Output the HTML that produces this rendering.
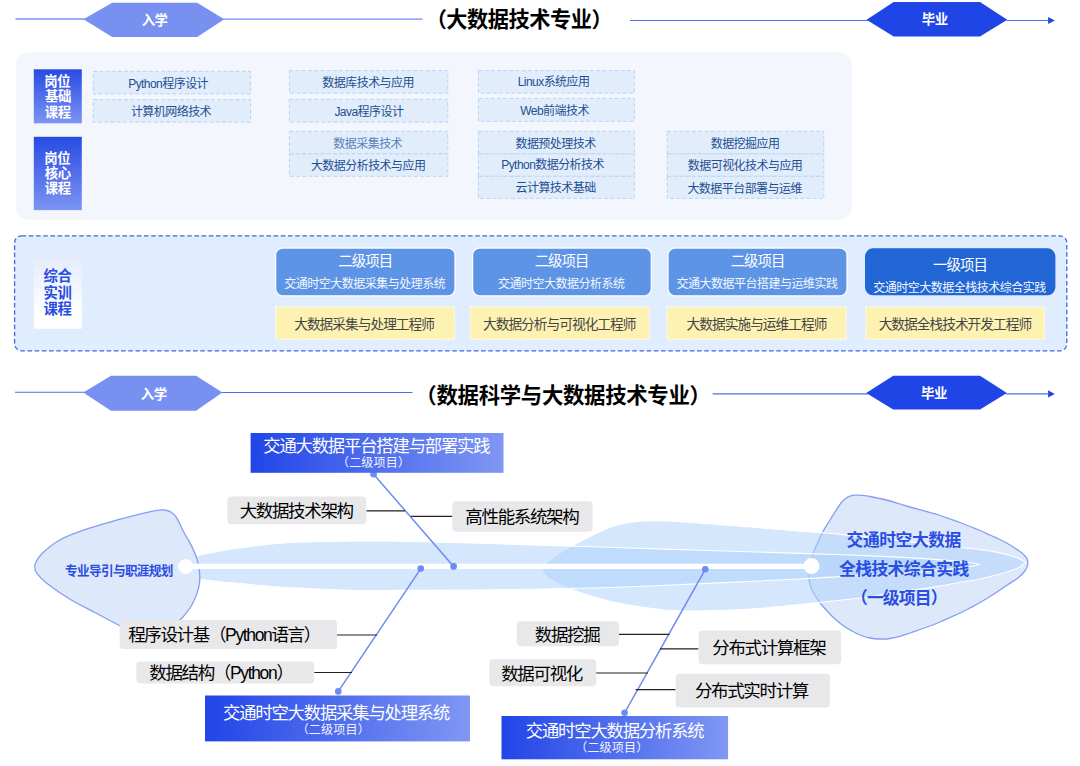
<!DOCTYPE html>
<html lang="zh-CN"><head><meta charset="utf-8"><title>大数据技术专业 课程体系</title>
<style>
html,body{margin:0;padding:0;background:#fff}
body{width:1080px;height:766px;position:relative;overflow:hidden;font-family:"Liberation Sans",sans-serif}
svg{position:absolute;left:0;top:0;display:block}
.t{position:absolute;color:transparent;white-space:nowrap;overflow:hidden;margin:0;padding:0;text-align:center;letter-spacing:0}
svg text{font-family:"Liberation Sans","Noto Sans CJK SC",sans-serif;white-space:pre}
</style></head><body>
<svg width="1080" height="766" viewBox="0 0 1080 766">
<defs>
<linearGradient id="gv" x1="0" y1="0" x2="0" y2="1"><stop offset="0" stop-color="#284be3"/><stop offset="1" stop-color="#7c94f3"/></linearGradient>
<linearGradient id="gw" x1="0" y1="0" x2="0" y2="1"><stop offset="0" stop-color="#e3ebfb"/><stop offset="0.75" stop-color="#fdfeff"/><stop offset="1" stop-color="#ffffff"/></linearGradient>
<linearGradient id="gh" x1="0" y1="0" x2="1" y2="0"><stop offset="0" stop-color="#2145e8"/><stop offset="1" stop-color="#8097f3"/></linearGradient>
</defs>
<path d="M15.5 19.0H84.5" stroke="#7890f0" stroke-width="1.3" fill="none"/>
<path d="M223.5 19.2H422.5" stroke="#6f8af0" stroke-width="1.2" fill="none"/>
<path d="M83.4 19.2L112.2 2.8H197.2L224.3 19.2L197.2 37.0H112.2Z" fill="#7890f0"/>
<path d="M630.0 20.5H868.0M1006.5 20.5H1048.5" stroke="#4f70ee" stroke-width="1.0" fill="none"/>
<path d="M866.6 19.8L893.6 2.0H980.0L1007.3 19.8L980.0 36.6H893.6Z" fill="#1f45e6"/>
<path d="M1048.1 16.9L1054.8 20.5L1048.1 24.1Z" fill="#1f45e6"/>
<path d="M15.0 392.3H84.5" stroke="#4f6eea" stroke-width="1.1" fill="none"/>
<path d="M221.5 392.5H412.5" stroke="#4f70ee" stroke-width="1.1" fill="none"/>
<path d="M83.3 392.4L111.0 375.8H196.0L222.4 392.4L196.0 410.7H111.0Z" fill="#7890f0"/>
<path d="M712.6 393.9H868.0M1006.0 393.9H1048.5" stroke="#4f70ee" stroke-width="1.2" fill="none"/>
<path d="M866.2 393.0L893.2 375.8H980.0L1006.9 393.0L980.0 409.6H893.2Z" fill="#1f45e6"/>
<path d="M1048.1 390.3L1054.8 393.9L1048.1 397.5Z" fill="#1f45e6"/>
<rect x="16" y="52.6" width="836" height="166.8" rx="12" fill="#f3f6fc"/>
<rect x="33.8" y="69.3" width="48" height="54" fill="url(#gv)"/>
<rect x="33.8" y="136.8" width="48" height="73.3" fill="url(#gv)"/>
<rect x="93.2" y="71.3" width="157.4" height="22.6" fill="#e2edfc" stroke="#b7d4f6" stroke-width="1" stroke-dasharray="3.8 2.4"/>
<rect x="93.2" y="99.6" width="157.4" height="22.5" fill="#e2edfc" stroke="#b7d4f6" stroke-width="1" stroke-dasharray="3.8 2.4"/>
<rect x="289.4" y="70.6" width="158.4" height="22.6" fill="#e2edfc" stroke="#b7d4f6" stroke-width="1" stroke-dasharray="3.8 2.4"/>
<rect x="289.4" y="99.3" width="158.4" height="22.8" fill="#e2edfc" stroke="#b7d4f6" stroke-width="1" stroke-dasharray="3.8 2.4"/>
<rect x="478.4" y="70.6" width="156.0" height="22.5" fill="#e2edfc" stroke="#b7d4f6" stroke-width="1" stroke-dasharray="3.8 2.4"/>
<rect x="478.4" y="98.4" width="156.0" height="22.9" fill="#e2edfc" stroke="#b7d4f6" stroke-width="1" stroke-dasharray="3.8 2.4"/>
<rect x="289.4" y="131.3" width="158.4" height="22.6" fill="#e2edfc" stroke="#b7d4f6" stroke-width="1" stroke-dasharray="3.8 2.4"/>
<rect x="289.4" y="153.9" width="158.4" height="22.4" fill="#e2edfc" stroke="#b7d4f6" stroke-width="1" stroke-dasharray="3.8 2.4"/>
<rect x="478.4" y="131.3" width="156.0" height="22.6" fill="#e2edfc" stroke="#b7d4f6" stroke-width="1" stroke-dasharray="3.8 2.4"/>
<rect x="478.4" y="153.9" width="156.0" height="22.4" fill="#e2edfc" stroke="#b7d4f6" stroke-width="1" stroke-dasharray="3.8 2.4"/>
<rect x="478.4" y="176.3" width="156.0" height="22.1" fill="#e2edfc" stroke="#b7d4f6" stroke-width="1" stroke-dasharray="3.8 2.4"/>
<rect x="667.2" y="131.3" width="156.6" height="22.6" fill="#e2edfc" stroke="#b7d4f6" stroke-width="1" stroke-dasharray="3.8 2.4"/>
<rect x="667.2" y="153.9" width="156.6" height="22.4" fill="#e2edfc" stroke="#b7d4f6" stroke-width="1" stroke-dasharray="3.8 2.4"/>
<rect x="667.2" y="176.3" width="156.6" height="22.1" fill="#e2edfc" stroke="#b7d4f6" stroke-width="1" stroke-dasharray="3.8 2.4"/>
<rect x="14.6" y="235.8" width="1052.2" height="115" rx="7" fill="#dfedfe" stroke="#4367e2" stroke-width="1.3" stroke-dasharray="4.6 2.6"/>
<rect x="33.8" y="255" width="48" height="73.8" fill="url(#gw)"/>
<rect x="275.6" y="248" width="179.4" height="47.8" rx="7" fill="#5e94e6" stroke="#fafcff" stroke-width="1.3"/>
<rect x="472.6" y="248" width="178.7" height="47.8" rx="7" fill="#5e94e6" stroke="#fafcff" stroke-width="1.3"/>
<rect x="668.0" y="248" width="179.0" height="47.8" rx="7" fill="#5e94e6" stroke="#fafcff" stroke-width="1.3"/>
<rect x="865" y="248.3" width="190.4" height="47" rx="8" fill="#2166d4"/>
<rect x="275.6" y="306.8" width="179.0" height="32.6" fill="#fef2b3" stroke="#ffffff" stroke-width="1" stroke-dasharray="2 1.6"/>
<rect x="470.0" y="306.8" width="179.3" height="32.6" fill="#fef2b3" stroke="#ffffff" stroke-width="1" stroke-dasharray="2 1.6"/>
<rect x="667.0" y="306.8" width="179.3" height="32.6" fill="#fef2b3" stroke="#ffffff" stroke-width="1" stroke-dasharray="2 1.6"/>
<rect x="865.7" y="306.8" width="178.9" height="32.6" fill="#fef2b3" stroke="#ffffff" stroke-width="1" stroke-dasharray="2 1.6"/>
<path d="M1027.8 562.5C1027.8 561.2 1027.8 560.3 1027.3 559.2C1026.8 558.1 1026.2 557.3 1025.0 556.0C1023.8 554.7 1022.5 553.3 1020.0 551.5C1017.5 549.7 1013.3 547.0 1010.0 545.0C1006.7 543.0 1003.3 541.2 1000.0 539.5C996.7 537.8 993.3 536.5 990.0 535.0C986.7 533.5 983.3 531.9 980.0 530.5C976.7 529.1 973.3 527.8 970.0 526.5C966.7 525.2 963.3 523.8 960.0 522.5C956.7 521.2 953.3 520.2 950.0 519.0C946.7 517.8 947.0 517.6 940.0 515.5C933.0 513.4 914.7 508.4 908.0 506.5C901.3 504.6 903.0 504.9 900.0 504.0C897.0 503.1 893.3 501.9 890.0 501.0C886.7 500.1 883.3 499.2 880.0 498.5C876.7 497.8 873.0 497.0 870.0 496.5C867.0 496.0 864.3 495.5 862.0 495.3C859.7 495.1 858.0 495.1 856.0 495.2C854.0 495.3 851.8 495.6 850.0 496.2C848.2 496.8 846.5 497.9 845.0 499.0C843.5 500.1 842.7 500.8 841.0 503.0C839.3 505.2 836.8 509.2 835.0 512.0C833.2 514.8 832.0 516.8 830.0 520.0C828.0 523.2 825.0 527.8 823.0 531.5C821.0 535.2 819.5 538.8 818.0 542.0C816.5 545.2 815.2 548.2 814.0 551.0C812.8 553.8 811.8 556.3 811.0 559.0C810.2 561.7 809.4 564.3 809.0 567.0C808.6 569.7 808.4 572.5 808.5 575.0C808.6 577.5 808.9 579.5 809.5 582.0C810.1 584.5 810.9 587.5 812.0 590.0C813.1 592.5 814.5 594.7 816.0 597.0C817.5 599.3 819.0 601.5 821.0 604.0C823.0 606.5 825.7 609.5 828.0 612.0C830.3 614.5 832.5 616.8 835.0 619.0C837.5 621.2 840.2 623.5 843.0 625.5C845.8 627.5 849.2 629.4 852.0 631.0C854.8 632.6 857.0 633.8 860.0 635.0C863.0 636.2 866.7 637.3 870.0 638.0C873.3 638.7 876.7 638.9 880.0 639.0C883.3 639.1 886.7 639.0 890.0 638.5C893.3 638.0 896.7 637.2 900.0 636.3C903.3 635.4 906.7 634.1 910.0 633.0C913.3 631.9 916.7 630.7 920.0 629.5C923.3 628.3 926.7 627.2 930.0 626.0C933.3 624.8 936.7 623.4 940.0 622.0C943.3 620.6 946.7 619.0 950.0 617.5C953.3 616.0 956.7 614.6 960.0 613.0C963.3 611.4 966.7 609.8 970.0 608.0C973.3 606.2 976.7 604.4 980.0 602.5C983.3 600.6 986.7 598.6 990.0 596.5C993.3 594.4 997.0 592.0 1000.0 590.0C1003.0 588.0 1005.0 586.5 1008.0 584.5C1011.0 582.5 1015.3 580.1 1018.0 578.0C1020.7 575.9 1022.5 573.8 1024.0 572.0C1025.5 570.2 1026.4 568.6 1027.0 567.0C1027.6 565.4 1027.8 563.8 1027.8 562.5Z" fill="#dee8fb" stroke="#869df3" stroke-width="1.3"/>
<path d="M542.3 570.0C543.1 568.8 543.2 566.0 547.0 562.6C550.8 559.2 558.2 553.9 565.0 549.8C571.8 545.7 580.1 541.5 587.6 537.8C595.1 534.0 603.8 529.7 610.0 527.3C616.2 524.9 618.7 524.3 625.0 523.2C631.3 522.1 638.4 521.1 647.6 520.8C656.8 520.5 663.5 520.6 680.0 521.6C696.5 522.6 726.7 525.1 746.7 526.7C766.7 528.3 787.3 530.2 800.0 531.2C812.7 532.2 815.5 532.2 823.0 532.8C830.5 533.4 832.2 533.6 845.0 534.9C857.8 536.2 880.8 538.7 900.0 540.8C919.2 542.9 948.3 546.2 960.0 547.5C971.7 548.8 966.7 548.1 970.0 548.5C973.3 548.9 976.7 549.2 980.0 549.6C983.3 550.0 986.7 550.4 990.0 551.0C993.3 551.6 996.7 552.2 1000.0 553.0C1003.3 553.8 1006.7 554.5 1010.0 555.5C1013.3 556.5 1017.4 557.8 1020.0 559.0C1022.6 560.2 1024.6 561.9 1025.5 562.5C1024.6 563.2 1022.6 565.6 1020.0 567.0C1017.4 568.4 1013.3 569.8 1010.0 571.0C1006.7 572.2 1003.3 573.1 1000.0 574.0C996.7 574.9 993.3 575.7 990.0 576.5C986.7 577.3 983.3 578.3 980.0 579.0C976.7 579.7 973.3 580.3 970.0 580.8C966.7 581.3 963.3 581.6 960.0 582.2C956.7 582.8 953.3 583.6 950.0 584.2C946.7 584.8 945.0 585.2 940.0 586.0C935.0 586.8 926.7 588.1 920.0 589.0C913.3 589.9 906.7 590.5 900.0 591.5C893.3 592.5 886.7 593.9 880.0 595.0C873.3 596.1 870.0 596.8 860.0 598.0C850.0 599.2 830.0 601.4 820.0 602.5C810.0 603.6 812.2 603.4 800.0 604.5C787.8 605.6 766.7 608.2 746.7 609.3C726.7 610.4 697.8 611.3 680.0 610.9C662.2 610.5 651.7 608.4 640.0 606.8C628.3 605.2 620.0 603.7 610.0 601.3C600.0 598.9 588.8 595.5 580.0 592.6C571.2 589.7 563.2 586.4 557.5 583.6C551.8 580.8 548.0 578.3 545.5 576.0C543.0 573.7 542.8 571.0 542.3 570.0Z" fill="rgb(175,210,251)" fill-opacity="0.535" stroke="#ffffff" stroke-width="1.1"/>
<path d="M166.0 566.3C168.3 565.3 174.8 562.0 180.0 560.2C185.2 558.4 188.1 557.5 197.5 555.5C206.9 553.5 221.8 550.4 236.7 548.3C251.6 546.2 267.8 543.9 286.7 542.7C305.6 541.5 331.1 541.3 350.0 541.1C368.9 540.9 378.3 540.9 400.0 541.3C421.7 541.7 448.3 542.4 480.0 543.3C511.7 544.2 561.7 545.8 590.0 546.7C618.3 547.6 615.0 547.5 650.0 548.6C685.0 549.7 766.7 552.3 800.0 553.4C833.3 554.5 832.0 554.3 850.0 555.0C868.0 555.7 891.3 556.7 908.0 557.6C924.7 558.5 939.7 559.7 950.0 560.6C960.3 561.5 965.0 562.1 970.0 562.8C975.0 563.4 978.3 564.2 980.0 564.5C978.3 564.9 975.0 565.9 970.0 566.6C965.0 567.4 960.3 567.9 950.0 569.0C939.7 570.1 926.3 571.7 908.0 573.0C889.7 574.3 858.0 575.6 840.0 576.6C822.0 577.6 831.7 577.4 800.0 579.0C768.3 580.6 685.0 584.5 650.0 586.0C615.0 587.5 618.3 587.3 590.0 588.0C561.7 588.7 511.7 589.6 480.0 590.0C448.3 590.4 421.7 590.4 400.0 590.4C378.3 590.4 368.9 590.7 350.0 590.2C331.1 589.7 305.6 588.6 286.7 587.5C267.8 586.4 251.1 584.7 236.7 583.3C222.2 581.9 209.4 580.8 200.0 579.2C190.6 577.6 185.7 575.6 180.0 573.5C174.3 571.4 168.3 567.5 166.0 566.3Z" fill="rgb(175,210,251)" fill-opacity="0.535" stroke="#ffffff" stroke-width="1.1"/>
<path d="M34.7 567.5C34.9 569.5 35.4 571.5 37.3 574.0C39.2 576.5 40.8 578.7 46.1 582.8C51.4 586.9 60.9 593.7 69.1 598.7C77.3 603.7 87.0 608.2 95.5 612.8C104.0 617.3 112.8 622.1 120.2 626.0C127.6 629.9 134.7 633.5 140.0 636.0C145.3 638.5 148.7 640.2 152.0 641.0C155.3 641.8 157.3 641.7 160.0 640.5C162.7 639.3 164.9 637.1 168.0 634.0C171.1 630.9 175.7 624.6 178.3 621.6C180.9 618.6 181.2 619.2 183.6 616.3C185.9 613.4 189.9 608.7 192.4 604.0C194.9 599.3 197.4 592.8 198.6 588.1C199.8 583.4 200.0 580.2 199.8 575.8C199.7 571.4 198.9 566.4 197.7 561.7C196.5 557.0 194.8 552.6 192.4 547.6C190.1 542.6 186.2 536.7 183.6 531.7C181.0 526.7 178.6 520.8 176.6 517.6C174.6 514.4 173.4 513.6 171.3 512.3C169.2 511.0 166.8 510.3 164.2 510.0C161.5 509.7 159.5 509.9 155.4 510.6C151.3 511.3 146.7 512.4 139.6 514.1C132.5 515.9 121.9 518.6 113.1 521.1C104.3 523.6 95.5 526.0 86.7 529.1C77.9 532.2 67.5 535.7 60.2 539.7C52.9 543.7 46.6 549.2 42.6 552.9C38.6 556.6 37.3 559.6 36.0 562.0C34.7 564.4 34.5 565.5 34.7 567.5Z" fill="#dee8fb" stroke="#869df3" stroke-width="1.3"/>
<path d="M185.6 566.3H811.5" stroke="#fff" stroke-width="5.2" fill="none"/>
<circle cx="185.7" cy="566.5" r="7.5" fill="#fff"/><circle cx="811.5" cy="566.1" r="8" fill="#fff"/>
<path d="M373.6 474.2L453.6 566.4" stroke="#6f8af1" stroke-width="1.5" fill="none"/>
<circle cx="373.6" cy="474.2" r="3.3" fill="#6f8af1"/><circle cx="453.6" cy="566.4" r="3.3" fill="#6f8af1"/>
<path d="M420.8 568.6L338.3 691.4" stroke="#6f8af1" stroke-width="1.5" fill="none"/>
<circle cx="420.8" cy="568.6" r="3.3" fill="#6f8af1"/><circle cx="338.3" cy="691.4" r="3.3" fill="#6f8af1"/>
<path d="M705.3 569.3L624.6 712.8" stroke="#6f8af1" stroke-width="1.5" fill="none"/>
<circle cx="705.3" cy="569.3" r="3.3" fill="#6f8af1"/><circle cx="624.6" cy="712.8" r="3.3" fill="#6f8af1"/>
<path d="M366.4 510.8H405M411 516.4H452.5M337 635H377M314.2 672.5H352M619 634.3H669.5M660 648.9H698.5M596 673H648M635.6 689.6H675.6" stroke="#222" stroke-width="1.15" fill="none"/>
<rect x="227.4" y="496.5" width="138.9" height="27.7" rx="4" fill="#e8e8ea"/>
<rect x="452.3" y="501.2" width="140.3" height="30.6" rx="4" fill="#e8e8ea"/>
<rect x="119.7" y="620.0" width="217.3" height="28.9" rx="4" fill="#e8e8ea"/>
<rect x="136.4" y="661.4" width="177.8" height="22.2" rx="4" fill="#e8e8ea"/>
<rect x="516.8" y="621.2" width="102.2" height="25.0" rx="4" fill="#e8e8ea"/>
<rect x="489.3" y="659.3" width="106.9" height="27.0" rx="4" fill="#e8e8ea"/>
<rect x="698.5" y="630.5" width="142.6" height="33.7" rx="4" fill="#e8e8ea"/>
<rect x="675.6" y="673.7" width="154.4" height="33.9" rx="4" fill="#e8e8ea"/>
<rect x="250.6" y="433.0" width="252.9" height="39.8" fill="url(#gh)"/>
<rect x="205.0" y="695.5" width="265.0" height="45.9" fill="url(#gh)"/>
<rect x="501.5" y="716.0" width="226.6" height="43.3" fill="url(#gh)"/>
</svg>
<svg width="1080" height="766" viewBox="0 0 1080 766">
<g font-weight="bold" font-size="13.4" fill="#ffffff" letter-spacing="-0.4">
<text x="141.63" y="25.06">入学</text>
<text x="921.73" y="24.46">毕业</text>
<text x="140.68" y="398.66">入学</text>
<text x="921.08" y="397.66">毕业</text>
<text x="44.34" y="86.36">岗位</text>
<text x="44.93" y="101.46">基础</text>
<text x="44.67" y="116.56">课程</text>
<text x="44.34" y="163.16">岗位</text>
<text x="44.71" y="178.16">核心</text>
<text x="44.67" y="193.16">课程</text>
</g>
<text x="425.67" y="27.16" font-size="21.2" font-weight="bold" fill="#000000" letter-spacing="-0.47">（大数据技术专业）</text>
<text x="415.37" y="402.94" font-size="21.4" font-weight="bold" fill="#000000" letter-spacing="-0.3">（数据科学与大数据技术专业）</text>
<g font-weight="bold" font-size="14.4" fill="#2a4de2" letter-spacing="-0.4">
<text x="43.54" y="280.54">综合</text>
<text x="43.51" y="297.54">实训</text>
<text x="43.52" y="314.29">课程</text>
</g>
<g font-size="12" fill="#1d4f91" letter-spacing="-0.55">
<text x="128.18" y="87.52">Python程序设计</text>
<text x="130.90" y="116.02">计算机网络技术</text>
<text x="322.37" y="87.02">数据库技术与应用</text>
<text x="334.40" y="115.52">Java程序设计</text>
<text x="517.71" y="86.42">Linux系统应用</text>
<text x="520.31" y="114.52">Web前端技术</text>
<text x="333.37" y="148.32" fill="#5b80b8">数据采集技术</text>
<text x="310.90" y="169.52">大数据分析技术与应用</text>
<text x="515.44" y="148.22">数据预处理技术</text>
<text x="501.21" y="169.42">Python数据分析技术</text>
<text x="515.53" y="192.22">云计算技术基础</text>
<text x="710.72" y="147.62">数据挖掘应用</text>
<text x="687.82" y="169.92">数据可视化技术与应用</text>
<text x="687.38" y="192.62">大数据平台部署与运维</text>
</g>
<g font-size="14.4" fill="#ffffff" letter-spacing="-0.9">
<text x="338.23" y="265.54">二级项目</text>
<text x="534.63" y="265.54">二级项目</text>
<text x="730.63" y="265.54">二级项目</text>
<text x="932.92" y="270.14">一级项目</text>
</g>
<g font-size="12" fill="#f4f8fe" letter-spacing="-0.5">
<text x="284.23" y="287.62">交通时空大数据采集与处理系统</text>
<text x="497.88" y="287.62">交通时空大数据分析系统</text>
<text x="676.60" y="287.62">交通大数据平台搭建与运维实践</text>
<text x="873.30" y="292.22">交通时空大数据全栈技术综合实践</text>
</g>
<g font-size="13.7" fill="#474747" letter-spacing="-0.98">
<text x="294.21" y="328.52">大数据采集与处理工程师</text>
<text x="483.00" y="328.52">大数据分析与可视化工程师</text>
<text x="686.61" y="328.52">大数据实施与运维工程师</text>
<text x="878.65" y="328.52">大数据全栈技术开发工程师</text>
</g>
<text x="64.91" y="575.05" font-size="12.6" font-weight="bold" fill="#2a4de2" letter-spacing="-0.6">专业导引与职涯规划</text>
<g font-size="16.8" font-weight="bold" fill="#2a4de2">
<text x="846.61" y="545.67" letter-spacing="-0.45">交通时空大数据</text>
<text x="838.97" y="574.67" letter-spacing="-0.57">全栈技术综合实践</text>
<text x="850.91" y="604.37" letter-spacing="-0.8">（一级项目）</text>
</g>
<g font-size="17.5" fill="#000000" letter-spacing="-1.35">
<text x="239.67" y="516.64">大数据技术架构</text>
<text x="465.33" y="523.44">高性能系统架构</text>
<text x="128.18" y="640.94">程序设计基（Python语言）</text>
<text x="149.26" y="678.84">数据结构（Python）</text>
<text x="534.81" y="641.04">数据挖掘</text>
<text x="501.19" y="679.74">数据可视化</text>
<text x="712.24" y="654.14">分布式计算框架</text>
<text x="694.92" y="697.44">分布式实时计算</text>
</g>
<g font-size="17.3" fill="#ffffff" letter-spacing="-1.13">
<text x="263.27" y="452.16">交通大数据平台搭建与部署实践</text>
<text x="223.02" y="718.86">交通时空大数据采集与处理系统</text>
<text x="525.82" y="736.66">交通时空大数据分析系统</text>
</g>
<g font-size="12" fill="#f2f5fe" letter-spacing="0.2">
<text x="336.98" y="466.82">（二级项目）</text>
<text x="296.68" y="733.52">（二级项目）</text>
<text x="575.23" y="752.02">（二级项目）</text>
</g>
</svg>
<div class="t" style="left:141.8px;top:13.3px;width:26.0px;font-size:13.4px;line-height:16.1px;letter-spacing:-0.40px">入学</div>
<div class="t" style="left:921.9px;top:12.7px;width:26.0px;font-size:13.4px;line-height:16.1px;letter-spacing:-0.40px">毕业</div>
<div class="t" style="left:431.4px;top:8.5px;width:186.6px;font-size:21.2px;line-height:25.4px;letter-spacing:-0.47px">（大数据技术专业）</div>
<div class="t" style="left:140.9px;top:386.9px;width:26.0px;font-size:13.4px;line-height:16.1px;letter-spacing:-0.40px">入学</div>
<div class="t" style="left:921.3px;top:385.9px;width:26.0px;font-size:13.4px;line-height:16.1px;letter-spacing:-0.40px">毕业</div>
<div class="t" style="left:420.0px;top:384.1px;width:295.4px;font-size:21.4px;line-height:25.7px;letter-spacing:-0.30px">（数据科学与大数据技术专业）</div>
<div class="t" style="left:44.5px;top:74.6px;width:26.0px;font-size:13.4px;line-height:16.1px;letter-spacing:-0.40px">岗位</div>
<div class="t" style="left:45.1px;top:89.7px;width:26.0px;font-size:13.4px;line-height:16.1px;letter-spacing:-0.40px">基础</div>
<div class="t" style="left:44.9px;top:104.8px;width:26.0px;font-size:13.4px;line-height:16.1px;letter-spacing:-0.40px">课程</div>
<div class="t" style="left:44.5px;top:151.4px;width:26.0px;font-size:13.4px;line-height:16.1px;letter-spacing:-0.40px">岗位</div>
<div class="t" style="left:44.9px;top:166.4px;width:26.0px;font-size:13.4px;line-height:16.1px;letter-spacing:-0.40px">核心</div>
<div class="t" style="left:44.9px;top:181.4px;width:26.0px;font-size:13.4px;line-height:16.1px;letter-spacing:-0.40px">课程</div>
<div class="t" style="left:43.7px;top:267.9px;width:28.0px;font-size:14.4px;line-height:17.3px;letter-spacing:-0.40px">综合</div>
<div class="t" style="left:43.7px;top:284.9px;width:28.0px;font-size:14.4px;line-height:17.3px;letter-spacing:-0.40px">实训</div>
<div class="t" style="left:43.7px;top:301.6px;width:28.0px;font-size:14.4px;line-height:17.3px;letter-spacing:-0.40px">课程</div>
<div class="t" style="left:128.2px;top:77.0px;width:85.3px;font-size:12.0px;line-height:14.4px;letter-spacing:-0.55px">Python程序设计</div>
<div class="t" style="left:131.2px;top:105.5px;width:80.2px;font-size:12.0px;line-height:14.4px;letter-spacing:-0.55px">计算机网络技术</div>
<div class="t" style="left:322.6px;top:76.5px;width:91.6px;font-size:12.0px;line-height:14.4px;letter-spacing:-0.55px">数据库技术与应用</div>
<div class="t" style="left:334.4px;top:105.0px;width:68.4px;font-size:12.0px;line-height:14.4px;letter-spacing:-0.55px">Java程序设计</div>
<div class="t" style="left:517.7px;top:75.9px;width:76.1px;font-size:12.0px;line-height:14.4px;letter-spacing:-0.55px">Linux系统应用</div>
<div class="t" style="left:520.3px;top:104.0px;width:71.0px;font-size:12.0px;line-height:14.4px;letter-spacing:-0.55px">Web前端技术</div>
<div class="t" style="left:333.6px;top:137.8px;width:68.7px;font-size:12.0px;line-height:14.4px;letter-spacing:-0.55px">数据采集技术</div>
<div class="t" style="left:311.2px;top:159.0px;width:114.5px;font-size:12.0px;line-height:14.4px;letter-spacing:-0.55px">大数据分析技术与应用</div>
<div class="t" style="left:515.7px;top:137.7px;width:80.2px;font-size:12.0px;line-height:14.4px;letter-spacing:-0.55px">数据预处理技术</div>
<div class="t" style="left:501.2px;top:158.9px;width:108.2px;font-size:12.0px;line-height:14.4px;letter-spacing:-0.55px">Python数据分析技术</div>
<div class="t" style="left:515.8px;top:181.7px;width:80.2px;font-size:12.0px;line-height:14.4px;letter-spacing:-0.55px">云计算技术基础</div>
<div class="t" style="left:711.0px;top:137.1px;width:68.7px;font-size:12.0px;line-height:14.4px;letter-spacing:-0.55px">数据挖掘应用</div>
<div class="t" style="left:688.1px;top:159.4px;width:114.5px;font-size:12.0px;line-height:14.4px;letter-spacing:-0.55px">数据可视化技术与应用</div>
<div class="t" style="left:687.6px;top:182.1px;width:114.5px;font-size:12.0px;line-height:14.4px;letter-spacing:-0.55px">大数据平台部署与运维</div>
<div class="t" style="left:338.7px;top:252.9px;width:54.0px;font-size:14.4px;line-height:17.3px;letter-spacing:-0.90px">二级项目</div>
<div class="t" style="left:284.5px;top:277.1px;width:161.0px;font-size:12.0px;line-height:14.4px;letter-spacing:-0.50px">交通时空大数据采集与处理系统</div>
<div class="t" style="left:535.1px;top:252.9px;width:54.0px;font-size:14.4px;line-height:17.3px;letter-spacing:-0.90px">二级项目</div>
<div class="t" style="left:498.1px;top:277.1px;width:126.5px;font-size:12.0px;line-height:14.4px;letter-spacing:-0.50px">交通时空大数据分析系统</div>
<div class="t" style="left:731.1px;top:252.9px;width:54.0px;font-size:14.4px;line-height:17.3px;letter-spacing:-0.90px">二级项目</div>
<div class="t" style="left:676.8px;top:277.1px;width:161.0px;font-size:12.0px;line-height:14.4px;letter-spacing:-0.50px">交通大数据平台搭建与运维实践</div>
<div class="t" style="left:933.4px;top:257.5px;width:54.0px;font-size:14.4px;line-height:17.3px;letter-spacing:-0.90px">一级项目</div>
<div class="t" style="left:873.5px;top:281.7px;width:172.5px;font-size:12.0px;line-height:14.4px;letter-spacing:-0.50px">交通时空大数据全栈技术综合实践</div>
<div class="t" style="left:294.7px;top:316.5px;width:139.9px;font-size:13.7px;line-height:16.4px;letter-spacing:-0.98px">大数据采集与处理工程师</div>
<div class="t" style="left:483.5px;top:316.5px;width:152.6px;font-size:13.7px;line-height:16.4px;letter-spacing:-0.98px">大数据分析与可视化工程师</div>
<div class="t" style="left:687.1px;top:316.5px;width:139.9px;font-size:13.7px;line-height:16.4px;letter-spacing:-0.98px">大数据实施与运维工程师</div>
<div class="t" style="left:879.1px;top:316.5px;width:152.6px;font-size:13.7px;line-height:16.4px;letter-spacing:-0.98px">大数据全栈技术开发工程师</div>
<div class="t" style="left:65.2px;top:564.0px;width:108.0px;font-size:12.6px;line-height:15.1px;letter-spacing:-0.60px">专业导引与职涯规划</div>
<div class="t" style="left:846.8px;top:530.9px;width:114.4px;font-size:16.8px;line-height:20.2px;letter-spacing:-0.45px">交通时空大数据</div>
<div class="t" style="left:839.3px;top:559.9px;width:129.8px;font-size:16.8px;line-height:20.2px;letter-spacing:-0.57px">全栈技术综合实践</div>
<div class="t" style="left:855.7px;top:589.6px;width:96.0px;font-size:16.8px;line-height:20.2px;letter-spacing:-0.80px">（一级项目）</div>
<div class="t" style="left:240.3px;top:501.2px;width:113.1px;font-size:17.5px;line-height:21.0px;letter-spacing:-1.35px">大数据技术架构</div>
<div class="t" style="left:466.0px;top:508.0px;width:113.1px;font-size:17.5px;line-height:21.0px;letter-spacing:-1.35px">高性能系统架构</div>
<div class="t" style="left:128.9px;top:625.5px;width:201.3px;font-size:17.5px;line-height:21.0px;letter-spacing:-1.35px">程序设计基（Python语言）</div>
<div class="t" style="left:149.9px;top:663.4px;width:152.8px;font-size:17.5px;line-height:21.0px;letter-spacing:-1.35px">数据结构（Python）</div>
<div class="t" style="left:535.5px;top:625.6px;width:64.6px;font-size:17.5px;line-height:21.0px;letter-spacing:-1.35px">数据挖掘</div>
<div class="t" style="left:501.9px;top:664.3px;width:80.8px;font-size:17.5px;line-height:21.0px;letter-spacing:-1.35px">数据可视化</div>
<div class="t" style="left:712.9px;top:638.7px;width:113.1px;font-size:17.5px;line-height:21.0px;letter-spacing:-1.35px">分布式计算框架</div>
<div class="t" style="left:695.6px;top:682.0px;width:113.1px;font-size:17.5px;line-height:21.0px;letter-spacing:-1.35px">分布式实时计算</div>
<div class="t" style="left:263.8px;top:436.9px;width:226.4px;font-size:17.3px;line-height:20.8px;letter-spacing:-1.13px">交通大数据平台搭建与部署实践</div>
<div class="t" style="left:340.2px;top:456.3px;width:73.2px;font-size:12.0px;line-height:14.4px;letter-spacing:0.20px">（二级项目）</div>
<div class="t" style="left:223.6px;top:703.6px;width:226.4px;font-size:17.3px;line-height:20.8px;letter-spacing:-1.13px">交通时空大数据采集与处理系统</div>
<div class="t" style="left:299.9px;top:723.0px;width:73.2px;font-size:12.0px;line-height:14.4px;letter-spacing:0.20px">（二级项目）</div>
<div class="t" style="left:526.4px;top:721.4px;width:177.9px;font-size:17.3px;line-height:20.8px;letter-spacing:-1.13px">交通时空大数据分析系统</div>
<div class="t" style="left:578.4px;top:741.5px;width:73.2px;font-size:12.0px;line-height:14.4px;letter-spacing:0.20px">（二级项目）</div>
</body></html>
